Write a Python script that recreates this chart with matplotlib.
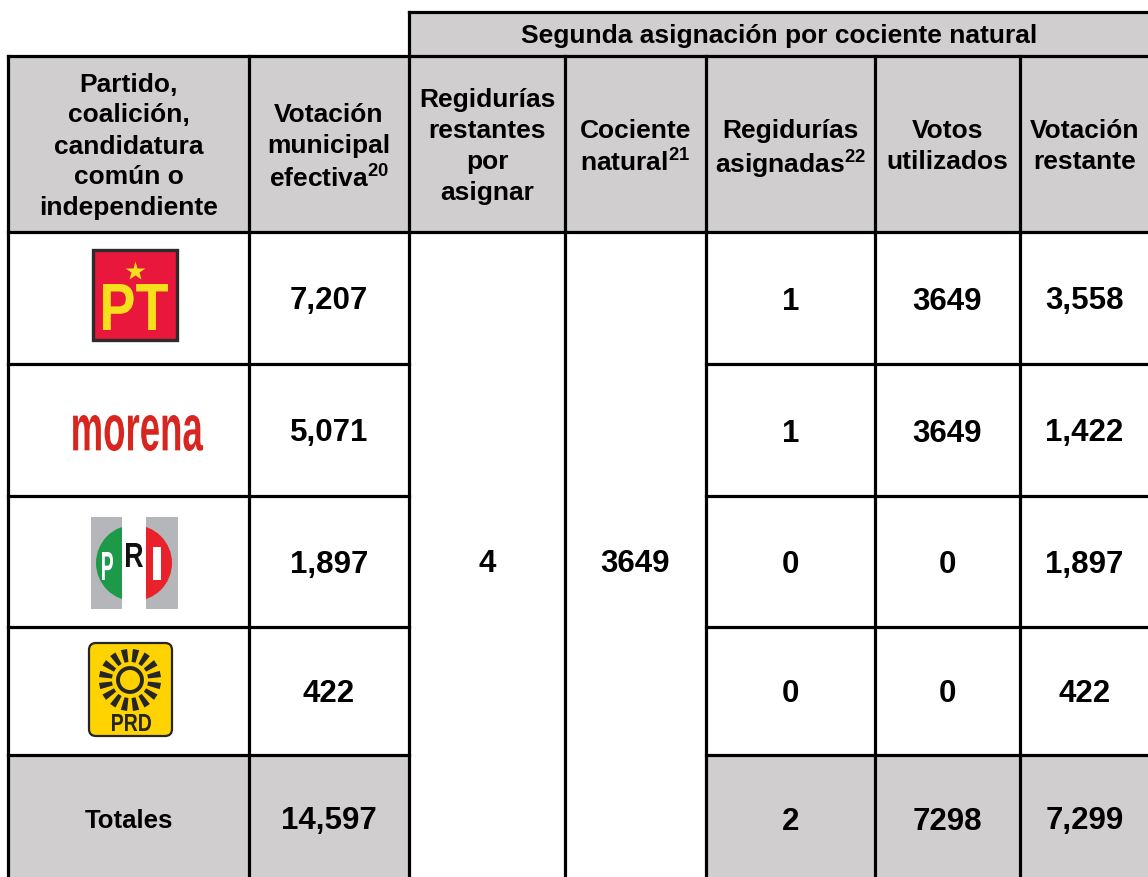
import numpy as np
import matplotlib
matplotlib.use("Agg")
import matplotlib.pyplot as plt
from matplotlib.patches import Rectangle, Circle, Polygon, PathPatch, FancyBboxPatch
from matplotlib.textpath import TextPath
from matplotlib.font_manager import FontProperties
from matplotlib.transforms import Affine2D

plt.rcParams['font.family'] = ['Liberation Sans', 'DejaVu Sans']
plt.rcParams['mathtext.fontset'] = 'custom'
plt.rcParams['mathtext.rm'] = 'Liberation Sans:bold'
plt.rcParams['mathtext.bf'] = 'Liberation Sans:bold'

# datos de la tabla
partidos = ['PT', 'morena', 'PRI', 'PRD']
votacion_efectiva = [7207, 5071, 1897, 422]
regidurias_restantes = 4
cociente_natural = 3649
regidurias_asignadas = [1, 1, 0, 0]
votos_utilizados = [3649, 3649, 0, 0]
votacion_restante = [3558, 1422, 1897, 422]

titulo_grupo = 'Segunda asignación por cociente natural'
encabezados = [
    ['Partido,', 'coalición,', 'candidatura', 'común o', 'independiente'],
    ['Votación', 'municipal', 'efectiva$^{\\mathbf{20}}$'],
    ['Regidurías', 'restantes', 'por', 'asignar'],
    ['Cociente', 'natural$^{\\mathbf{21}}$'],
    ['Regidurías', 'asignadas$^{\\mathbf{22}}$'],
    ['Votos', 'utilizados'],
    ['Votación', 'restante'],
]

# geometria (pixeles)
col_x = [8, 249, 409, 565, 706, 875, 1020, 1149]
row_y = [56, 232, 364, 496, 627, 755, 877]
top_y = 12
GRIS = '#d0cecf'
LW = 2.3

fig = plt.figure(figsize=(11.48, 8.77), dpi=100)
ax = fig.add_axes([0, 0, 1, 1])
ax.set_xlim(0, 1148)
ax.set_ylim(877, 0)
ax.axis('off')


def text_in_box(s, x0, y0, x1, y1, color):
    tp = TextPath((0, 0), s, size=1, prop=FontProperties(family='Liberation Sans', weight='bold'))
    ext = tp.get_extents()
    tr = Affine2D().translate(-ext.x0, -ext.y0).scale((x1 - x0) / ext.width, -(y1 - y0) / ext.height).translate(x0, y1)
    ax.add_patch(PathPatch(tr.transform_path(tp), fc=color, ec='none', zorder=5))


def logo_pt():
    ax.add_patch(Rectangle((93, 250), 84, 90, fc='#e8173b', ec='#2b2b2b', lw=2.4, zorder=4))
    text_in_box('PT', 103, 284, 168, 330, '#f6e01b')
    ax.plot(135, 271, marker='*', ms=15, color='#f6e01b', mec='none', zorder=5)


def logo_morena():
    text_in_box('morena', 73, 415, 203, 451, '#d6261f')


def logo_pri():
    izq = Rectangle((91, 517), 31, 92, fc='#b4b6b9', ec='none', zorder=3)
    der = Rectangle((146, 517), 32, 92, fc='#b4b6b9', ec='none', zorder=3)
    ax.add_patch(izq)
    ax.add_patch(der)
    verde = Circle((134, 563), 38, fc='#1c9a4a', ec='none', zorder=4)
    ax.add_patch(verde)
    verde.set_clip_path(izq)
    rojo = Circle((134, 563), 38, fc='#e8212b', ec='none', zorder=4)
    ax.add_patch(rojo)
    rojo.set_clip_path(der)
    text_in_box('P', 102, 552, 113, 580, 'white')
    text_in_box('R', 126, 543, 143, 567, '#111111')
    text_in_box('I', 153, 547, 161, 580, 'white')


def logo_prd():
    ax.add_patch(FancyBboxPatch((89, 643), 83, 93, boxstyle='round,pad=0,rounding_size=7',
                                fc='#ffd300', ec='#262626', lw=1.6, zorder=4))
    cx, cy = 130, 680
    ax.add_patch(Circle((cx, cy), 12, fill=False, ec='#262626', lw=2.8, zorder=5))
    for k in range(16):
        a = np.deg2rad(11.25 + 22.5 * k)
        u = np.array([np.cos(a), np.sin(a)])
        n = np.array([-u[1], u[0]])
        r0, r1, w0, w1 = 18, 31, 2.0, 3.2
        pts = [
            (cx, cy) + u * r0 + n * w0, (cx, cy) + u * r1 + n * w1,
            (cx, cy) + u * r1 - n * w1, (cx, cy) + u * r0 - n * w0,
        ]
        ax.add_patch(Polygon(pts, closed=True, fc='#262626', ec='none', zorder=5))
    text_in_box('PRD', 112, 714, 151, 731, '#262626')


# fondos grises
ax.add_patch(Rectangle((col_x[2], top_y), col_x[-1] - col_x[2], row_y[0] - top_y, fc=GRIS, ec='none', zorder=0))
ax.add_patch(Rectangle((col_x[0], row_y[0]), col_x[-1] - col_x[0], row_y[1] - row_y[0], fc=GRIS, ec='none', zorder=0))
ax.add_patch(Rectangle((col_x[0], row_y[5]), col_x[2] - col_x[0], row_y[6] - row_y[5], fc=GRIS, ec='none', zorder=0))
ax.add_patch(Rectangle((col_x[4], row_y[5]), col_x[-1] - col_x[4], row_y[6] - row_y[5], fc=GRIS, ec='none', zorder=0))

# lineas
kw = dict(color='black', lw=LW, zorder=6, solid_capstyle='projecting')
ax.plot([col_x[2], col_x[-1]], [top_y, top_y], **kw)
ax.plot([col_x[0], col_x[-1]], [row_y[0], row_y[0]], **kw)
ax.plot([col_x[0], col_x[-1]], [row_y[1], row_y[1]], **kw)
for y in row_y[2:6]:
    ax.plot([col_x[0], col_x[2]], [y, y], **kw)
    ax.plot([col_x[4], col_x[-1]], [y, y], **kw)
ax.plot([col_x[2], col_x[2]], [top_y, 877], **kw)
for x in [col_x[0], col_x[1], col_x[3], col_x[4], col_x[5], col_x[6]]:
    ax.plot([x, x], [row_y[0], 877], **kw)

# encabezados
centros_x = [(col_x[i] + col_x[i + 1]) / 2 for i in range(7)]
ax.text((col_x[2] + col_x[-1]) / 2, (top_y + row_y[0]) / 2, titulo_grupo, ha='center',
        va='center_baseline', fontsize=19, fontweight='bold', zorder=7)
yc = (row_y[0] + row_y[1]) / 2
for i, lineas in enumerate(encabezados):
    n = len(lineas)
    for j, t in enumerate(lineas):
        ax.text(centros_x[i], yc + (j - (n - 1) / 2) * 31, t, ha='center', va='center_baseline',
                fontsize=19, fontweight='bold', zorder=7)

# filas
logos = {'PT': logo_pt, 'morena': logo_morena, 'PRI': logo_pri, 'PRD': logo_prd}
num = dict(ha='center', va='center_baseline', fontsize=22.5, fontweight='bold', zorder=7)
for i, p in enumerate(partidos):
    y = (row_y[i + 1] + row_y[i + 2]) / 2
    logos[p]()
    ax.text(centros_x[1], y, f'{votacion_efectiva[i]:,}', **num)
    ax.text(centros_x[4], y, f'{regidurias_asignadas[i]}', **num)
    ax.text(centros_x[5], y, f'{votos_utilizados[i]}', **num)
    ax.text(centros_x[6], y, f'{votacion_restante[i]:,}', **num)

ax.text(centros_x[2], 561, f'{regidurias_restantes}', **num)
ax.text(centros_x[3], 561, f'{cociente_natural}', **num)

# totales
yt = 818
ax.text(centros_x[0], yt, 'Totales', ha='center', va='center_baseline', fontsize=18.5,
        fontweight='bold', zorder=7)
ax.text(centros_x[1], yt, f'{sum(votacion_efectiva):,}', **num)
ax.text(centros_x[4], yt, f'{sum(regidurias_asignadas)}', **num)
ax.text(centros_x[5], yt, f'{sum(votos_utilizados)}', **num)
ax.text(centros_x[6], yt, f'{sum(votacion_restante):,}', **num)

fig.savefig('out.png', dpi=100)
